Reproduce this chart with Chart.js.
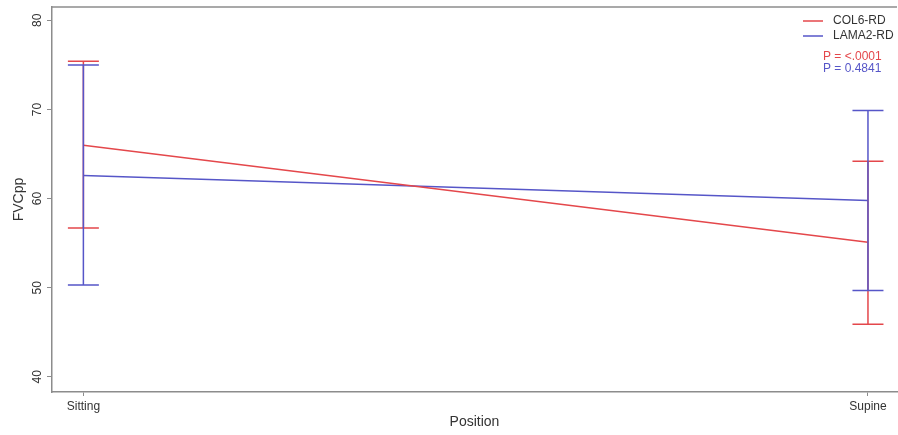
<!DOCTYPE html>
<html>
<head>
<meta charset="utf-8">
<script src="https://cdn.jsdelivr.net/npm/chart.js@4.4.1/dist/chart.umd.min.js"></script>
<style>
  html, body { margin: 0; padding: 0; background: #fff; }
  #wrap { width: 898px; height: 435px; }
</style>
</head>
<body>
<div id="wrap"><canvas id="fvcChart" width="898" height="435"></canvas></div>
<script>
// chart data
const positions = ['Sitting', 'Supine'];
const yTicks = [40, 50, 60, 70, 80];

const col6Mean = [66.0, 55.1];
const col6Lower = [56.7, 45.9];
const col6Upper = [75.4, 64.2];

const lama2Mean = [62.6, 59.8];
const lama2Lower = [50.3, 49.7];
const lama2Upper = [75.0, 69.9];

const pValues = ['P = <.0001', 'P = 0.4841'];

const RED = '#e4474b';
const BLUE = '#5656c8';
const AXIS = '#8c8c8c';
const TEXT = '#333';
const fontFamily = '"Liberation Sans", Arial, sans-serif';

function toPoints(vals) {
    return vals.map((v, i) => ({ x: i, y: v }));
}

// Error bars with caps, drawn through the scales
const errorBars = {
    id: 'errorBars',
    afterDatasetsDraw(chart) {
        const ctx = chart.ctx;
        const xs = chart.scales.x, ys = chart.scales.y;
        const groups = [
            { lo: col6Lower, hi: col6Upper, color: RED },
            { lo: lama2Lower, hi: lama2Upper, color: BLUE }
        ];
        ctx.save();
        ctx.lineWidth = 1.5;
        groups.forEach((g) => {
            ctx.strokeStyle = g.color;
            g.lo.forEach((lo, i) => {
                const x = xs.getPixelForValue(i);
                const y1 = ys.getPixelForValue(lo);
                const y2 = ys.getPixelForValue(g.hi[i]);
                ctx.beginPath();
                ctx.moveTo(x, y1); ctx.lineTo(x, y2);
                ctx.moveTo(x - 15.5, y1); ctx.lineTo(x + 15.5, y1);
                ctx.moveTo(x - 15.5, y2); ctx.lineTo(x + 15.5, y2);
                ctx.stroke();
            });
        });
        ctx.restore();
    },
    afterDraw(chart) {
        const ctx = chart.ctx;
        const area = chart.chartArea;
        const ys = chart.scales.y;
        ctx.save();
        // top frame line
        ctx.strokeStyle = AXIS;
        ctx.lineWidth = 1.5;
        ctx.beginPath();
        ctx.moveTo(area.left, area.top);
        ctx.lineTo(area.right, area.top);
        ctx.stroke();

        // rotated y tick labels
        ctx.fillStyle = TEXT;
        ctx.font = '12px ' + fontFamily;
        ctx.textAlign = 'center';
        ctx.textBaseline = 'middle';
        yTicks.forEach((v) => {
            ctx.save();
            ctx.translate(38, ys.getPixelForValue(v));
            ctx.rotate(-Math.PI / 2);
            ctx.fillText(String(v), 0, 0);
            ctx.restore();
        });

        // legend
        const items = [
            { label: 'COL6-RD', color: RED },
            { label: 'LAMA2-RD', color: BLUE }
        ];
        ctx.textAlign = 'left';
        items.forEach((it, i) => {
            const y = 21 + i * 15;
            ctx.strokeStyle = it.color;
            ctx.beginPath();
            ctx.moveTo(803, y); ctx.lineTo(823, y);
            ctx.stroke();
            ctx.fillStyle = TEXT;
            ctx.fillText(it.label, 833, y);
        });
        ctx.fillStyle = RED;
        ctx.fillText(pValues[0], 823, 57);
        ctx.fillStyle = BLUE;
        ctx.fillText(pValues[1], 823, 69);
        ctx.restore();
    }
};

new Chart(document.getElementById('fvcChart').getContext('2d'), {
    type: 'line',
    data: {
        datasets: [
            {
                label: 'COL6-RD',
                data: toPoints(col6Mean),
                borderColor: RED,
                borderWidth: 1.5,
                pointRadius: 0,
                tension: 0
            },
            {
                label: 'LAMA2-RD',
                data: toPoints(lama2Mean),
                borderColor: BLUE,
                borderWidth: 1.5,
                pointRadius: 0,
                tension: 0
            }
        ]
    },
    options: {
        responsive: false,
        animation: false,
        layout: { padding: { top: 7, right: 1, left: 0, bottom: 0 } },
        plugins: {
            legend: { display: false },
            tooltip: { enabled: false }
        },
        scales: {
            x: {
                type: 'linear',
                min: -0.04,
                max: 1.037,
                afterBuildTicks: (scale) => { scale.ticks = positions.map((p, i) => ({ value: i })); },
                afterFit: (scale) => { scale.height = 43; },
                grid: { display: true, drawOnChartArea: false, drawTicks: true, tickLength: 4, tickColor: AXIS },
                border: { color: AXIS, width: 1.5 },
                ticks: {
                    callback: (v) => positions[v],
                    color: TEXT,
                    font: { family: fontFamily, size: 12 },
                    padding: 3,
                    maxRotation: 0
                },
                title: {
                    display: true,
                    text: 'Position',
                    color: TEXT,
                    font: { family: fontFamily, size: 14 },
                    padding: { top: 1 }
                }
            },
            y: {
                min: 38.3,
                max: 81.5,
                afterBuildTicks: (scale) => { scale.ticks = yTicks.map((v) => ({ value: v })); },
                afterFit: (scale) => { scale.width = 52; },
                grid: { display: true, drawOnChartArea: false, drawTicks: true, tickLength: 5, tickColor: AXIS },
                border: { color: AXIS, width: 1.5 },
                ticks: {
                    display: false
                },
                title: {
                    display: true,
                    text: 'FVCpp',
                    color: TEXT,
                    font: { family: fontFamily, size: 14 },
                    padding: { top: 11, bottom: 0 }
                }
            }
        }
    },
    plugins: [errorBars]
});
</script>
</body>
</html>
